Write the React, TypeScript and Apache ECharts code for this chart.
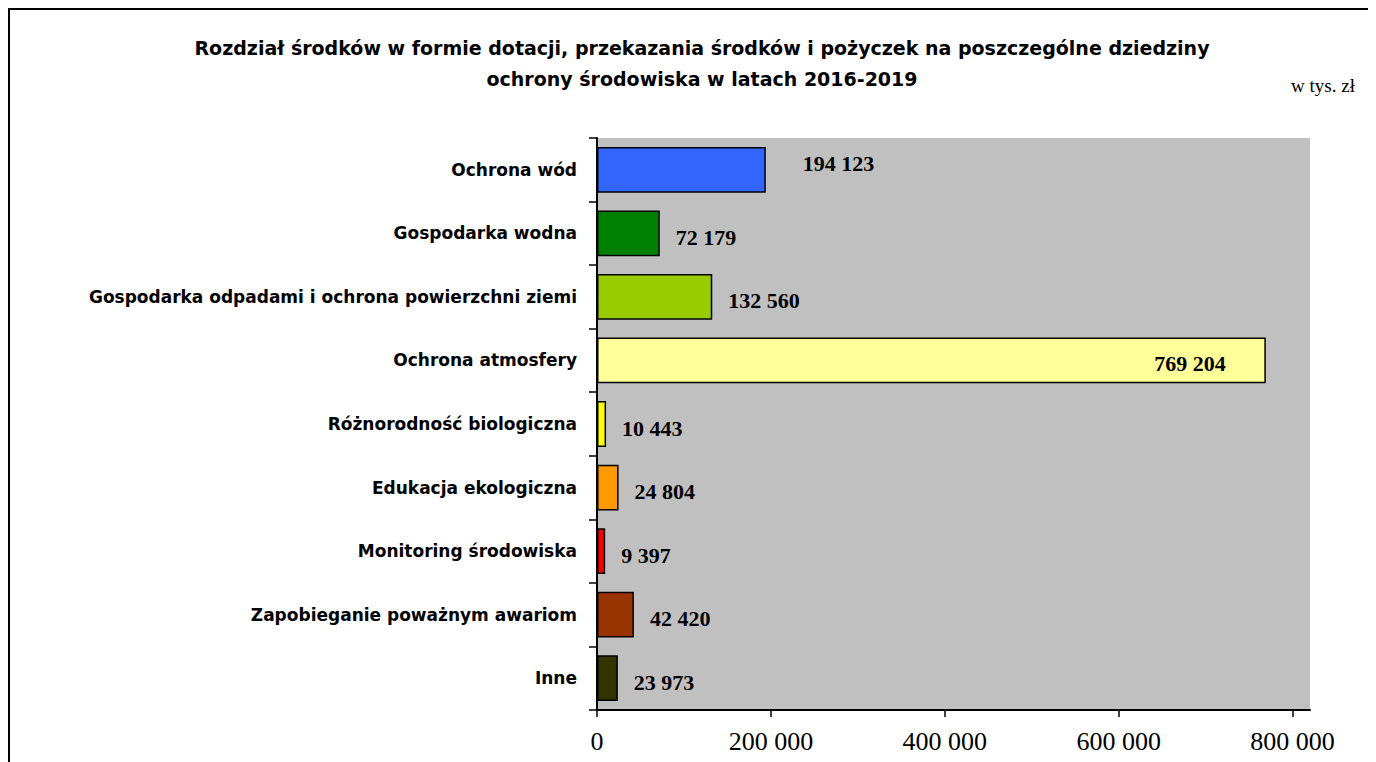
import React, { useEffect, useRef } from "react";
import * as echarts from "echarts";

const categories = [
  "Ochrona wód",
  "Gospodarka wodna",
  "Gospodarka odpadami i ochrona powierzchni ziemi",
  "Ochrona atmosfery",
  "Różnorodność biologiczna",
  "Edukacja ekologiczna",
  "Monitoring środowiska",
  "Zapobieganie poważnym awariom",
  "Inne",
];
const values = [194123, 72179, 132560, 769204, 10443, 24804, 9397, 42420, 23973];
const colors = ["#3366FF", "#008000", "#99CC00", "#FFFF99", "#FFFF00", "#FF9900", "#FF0000", "#993300", "#333300"];
const xTicks = [0, 200000, 400000, 600000, 800000];
const titleLines = [
  "Rozdział środków w formie dotacji, przekazania środków i pożyczek na poszczególne dziedziny",
  "ochrony środowiska w latach 2016-2019",
];
const unitText = "w tys. zł";

const fmt = (v: number) => String(Math.round(v)).replace(/\B(?=(\d{3})+(?!\d))/g, " ");

export default function App() {
  const ref = useRef<HTMLDivElement>(null);
  useEffect(() => {
    document.body.style.overflow = "hidden";
    const chart = echarts.init(ref.current!, null, { renderer: "svg" });
    const data = values.map((v, i) => {
      const item: any = { value: v, itemStyle: { color: colors[i] } };
      if (i === 3) {
        item.label = { position: "insideRight", distance: 40, offset: [0, 3] };
      } else if (i === 0) {
        item.label = { distance: 37, offset: [0, -6] };
      } else {
        item.label = { offset: [0, 4] };
      }
      return item;
    });
    chart.setOption({
      animation: false,
      grid: {
        left: 587,
        top: 128,
        right: 66,
        bottom: 52,
        show: true,
        backgroundColor: "#C0C0C0",
        borderWidth: 0,
      },
      xAxis: {
        type: "value",
        min: 0,
        max: 820000,
        interval: 200000,
        splitLine: { show: false },
        axisLine: { show: true, lineStyle: { color: "#000", width: 2 } },
        axisTick: { show: true, length: 7, customValues: xTicks, lineStyle: { color: "#000", width: 1.5 } },
        axisLabel: {
          customValues: xTicks,
          formatter: (v: number) => fmt(v),
          fontFamily: "Liberation Serif",
          fontSize: 26,
          color: "#000",
          margin: 18,
        },
      },
      yAxis: {
        type: "category",
        inverse: true,
        data: categories,
        axisLine: { show: true, lineStyle: { color: "#000", width: 2 } },
        axisTick: { show: true, length: 8, lineStyle: { color: "#000", width: 1.5 } },
        axisLabel: {
          fontFamily: "DejaVu Sans",
          fontWeight: "bold",
          fontSize: 17,
          color: "#000",
          margin: 20,
        },
      },
      series: [
        {
          type: "bar",
          data,
          barCategoryGap: "28%",
          itemStyle: { borderColor: "#000", borderWidth: 1.5 },
          label: {
            show: true,
            position: "right",
            distance: 16,
            formatter: (p: any) => fmt(p.value),
            fontFamily: "Liberation Serif",
            fontWeight: "bold",
            fontSize: 22,
            color: "#000",
          },
        },
      ],
      graphic: [
        {
          type: "text",
          x: 692,
          y: 38,
          style: {
            text: titleLines[0],
            textAlign: "center",
            textVerticalAlign: "middle",
            font: "bold 19px 'DejaVu Sans'",
            fill: "#000",
          },
        },
        {
          type: "text",
          x: 692,
          y: 69,
          style: {
            text: titleLines[1],
            textAlign: "center",
            textVerticalAlign: "middle",
            font: "bold 19px 'DejaVu Sans'",
            fill: "#000",
          },
        },
        {
          type: "text",
          x: 1313,
          y: 75,
          style: {
            text: unitText,
            textAlign: "center",
            textVerticalAlign: "middle",
            font: "19px 'Liberation Serif'",
            fill: "#000",
          },
        },
      ],
    });
    return () => chart.dispose();
  }, []);
  return (
    <div
      style={{
        width: 1368,
        height: 754,
        borderLeft: "2px solid #000",
        borderTop: "2px solid #000",
        boxSizing: "border-box",
        position: "relative",
      }}
    >
      <div ref={ref} style={{ width: 1366, height: 752 }} />
    </div>
  );
}
